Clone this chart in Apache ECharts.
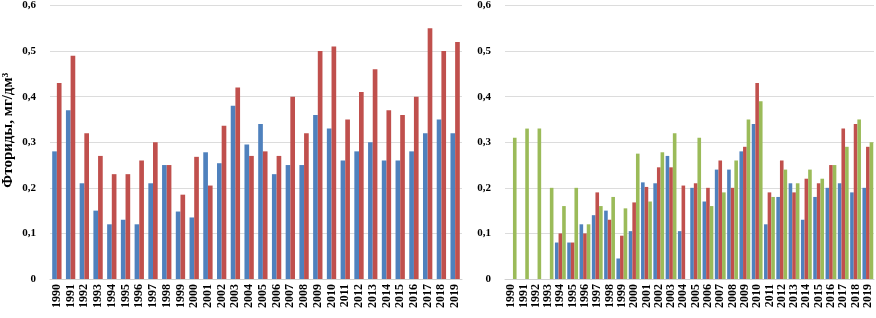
<!DOCTYPE html>
<html>
<head>
<meta charset="utf-8">
<script src="https://cdn.jsdelivr.net/npm/echarts@6/dist/echarts.min.js"></script>
<style>
  * { margin: 0; padding: 0; }
  #chart-container { width: 876px; height: 318px; background: #fff; }
</style>
</head>
<body>
<div id="chart-container"></div>
<script>
  var years = ['1990','1991','1992','1993','1994','1995','1996','1997','1998','1999',
    '2000','2001','2002','2003','2004','2005','2006','2007','2008','2009',
    '2010','2011','2012','2013','2014','2015','2016','2017','2018','2019']

  // left panel
  var leftBlue = [0.28, 0.37, 0.21, 0.15, 0.12, 0.13, 0.12, 0.21, 0.25, 0.148,
    0.135, 0.278, 0.254, 0.38, 0.295, 0.34, 0.23, 0.25, 0.25, 0.36,
    0.33, 0.26, 0.28, 0.30, 0.26, 0.26, 0.28, 0.32, 0.35, 0.32]
  var leftRed = [0.43, 0.49, 0.32, 0.27, 0.23, 0.23, 0.26, 0.30, 0.25, 0.185,
    0.268, 0.205, 0.336, 0.42, 0.27, 0.28, 0.27, 0.40, 0.32, 0.50,
    0.51, 0.35, 0.41, 0.46, 0.37, 0.36, 0.40, 0.55, 0.50, 0.52]

  // right panel
  var rightBlue = [null, null, null, null, 0.08, 0.08, 0.12, 0.14, 0.15, 0.045,
    0.105, 0.212, 0.21, 0.27, 0.105, 0.20, 0.17, 0.24, 0.24, 0.28,
    0.34, 0.12, 0.18, 0.21, 0.13, 0.18, 0.20, 0.21, 0.19, 0.20]
  var rightRed = [null, null, null, null, 0.10, 0.08, 0.10, 0.19, 0.13, 0.095,
    0.168, 0.202, 0.245, 0.245, 0.205, 0.21, 0.20, 0.26, 0.20, 0.29,
    0.43, 0.19, 0.26, 0.19, 0.22, 0.21, 0.25, 0.33, 0.34, 0.29]
  var rightGreen = [0.31, 0.33, 0.33, 0.20, 0.16, 0.20, 0.12, 0.16, 0.18, 0.155,
    0.275, 0.17, 0.278, 0.32, null, 0.31, 0.16, 0.19, 0.26, 0.35,
    0.39, 0.18, 0.24, 0.21, 0.24, 0.22, 0.25, 0.29, 0.35, 0.30]

  var yTicks = ['0', '0,1', '0,2', '0,3', '0,4', '0,5', '0,6']

  var font = '"Liberation Serif", "Times New Roman", serif'

  function yAxis(idx, withName) {
    return {
      type: 'value',
      gridIndex: idx,
      min: 0,
      max: 0.6,
      interval: 0.1,
      name: withName ? 'Фториды, мг/дм³' : '',
      nameLocation: 'middle',
      nameGap: 34,
      nameTextStyle: {
        fontFamily: font, fontWeight: 'bold', fontSize: 15, color: '#000',
        padding: [0, 0, 0, 24]
      },
      axisLine: { show: false },
      axisTick: { show: false },
      axisLabel: {
        fontFamily: font, fontWeight: 'bold', fontSize: 11, color: '#000', margin: 14,
        formatter: function (v) { return yTicks[Math.round(v * 10)] }
      },
      splitLine: { lineStyle: { color: '#dcdcdc' } }
    }
  }

  function xAxis(idx) {
    return {
      type: 'category',
      gridIndex: idx,
      data: years,
      axisLine: { lineStyle: { color: '#d0d0d0' } },
      axisTick: { show: false },
      axisLabel: {
        rotate: 90, interval: 0, fontFamily: font, fontWeight: 'bold',
        fontSize: 12, color: '#000', margin: 5
      }
    }
  }

  var myChart = echarts.init(document.getElementById('chart-container'), null, { renderer: 'canvas' })
  var option = {
    animation: false,
    grid: [
      { left: 48, right: 414, top: 5, bottom: 39 },
      { left: 505, right: 2, top: 5, bottom: 39 }
    ],
    xAxis: [xAxis(0), xAxis(1)],
    yAxis: [yAxis(0, true), yAxis(1, false)],
    series: [
      { type: 'bar', xAxisIndex: 0, yAxisIndex: 0, data: leftBlue, itemStyle: { color: '#4f81bd' }, barGap: '0%', barCategoryGap: '32%' },
      { type: 'bar', xAxisIndex: 0, yAxisIndex: 0, data: leftRed, itemStyle: { color: '#c0504d' } },
      { type: 'bar', xAxisIndex: 1, yAxisIndex: 1, data: rightBlue, itemStyle: { color: '#4f81bd' }, barGap: '0%', barCategoryGap: '12%' },
      { type: 'bar', xAxisIndex: 1, yAxisIndex: 1, data: rightRed, itemStyle: { color: '#c0504d' } },
      { type: 'bar', xAxisIndex: 1, yAxisIndex: 1, data: rightGreen, itemStyle: { color: '#9bbb59' } }
    ]
  }
  myChart.setOption(option)
  window.addEventListener('resize', myChart.resize)
</script>
</body>
</html>
